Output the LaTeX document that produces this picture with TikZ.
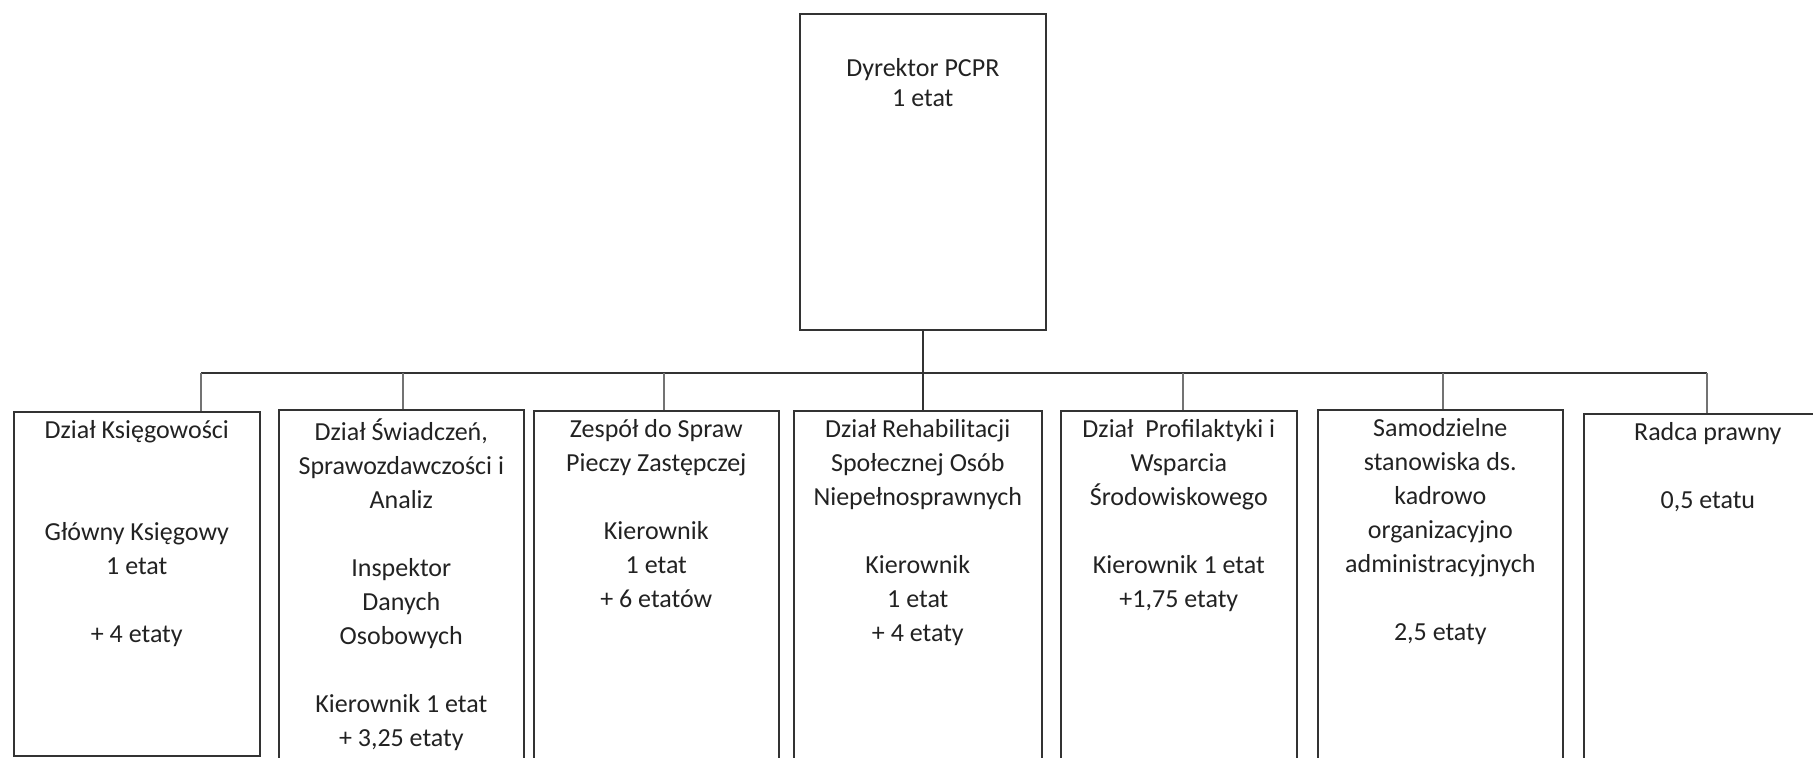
\documentclass[tikz,border=0pt]{standalone}
\usepackage{fontspec}
\setmainfont{Carlito}
\usetikzlibrary{positioning}
\definecolor{chartline}{RGB}{51,51,51}
\definecolor{charttext}{RGB}{34,34,34}

\begin{document}
\begin{tikzpicture}[x=.5pt,y=-.5pt,
    font=\fontsize{13pt}{17pt}\selectfont,
    unit/.style={draw=chartline,line width=.8pt,anchor=north west,
      inner sep=0pt,minimum height=190pt},
    txt/.style={align=center,inner sep=0pt,text=charttext,
      execute at begin node={\rule{0pt}{11.5pt}}},
    link/.style={draw=chartline,line width=.8pt},
    tick/.style={draw=black!55,line width=.8pt}]
    % Page frame (the lower boxes run off the bottom edge).
    \path[use as bounding box] (0,0) rectangle (1813,758);
    \clip (0,0) rectangle (1813,758);

    % Head of the unit.
    \node[unit,minimum width=123pt,minimum height=158pt]
      (dyrektor) at (799,13) {};
    \node[txt,font=\fontsize{13pt}{15pt}\selectfont,
      below=22.3pt of dyrektor.north] (dyrektorT) {Dyrektor PCPR\\1 etat};

    % Departments and posts.
    \node[unit,minimum width=123pt,minimum height=172pt]
      (ksieg) at (13,411) {};
    \node[txt,below=4.5pt of ksieg.north] (ksiegT)
      {Dział Księgowości\\~\\~\\Główny Księgowy\\1 etat\\~\\+ 4 etaty};
    \node[unit,minimum width=122.5pt] (swiad) at (278,409) {};
    \node[txt,below=4.5pt of swiad.north] (swiadT)
      {Dział Świadczeń,\\Sprawozdawczości i\\Analiz\\~\\Inspektor\\Danych\\
       Osobowych\\~\\Kierownik 1 etat\\+ 3,25 etaty};
    \node[unit,minimum width=122.5pt] (piecza) at (533,410) {};
    \node[txt,below=4.5pt of piecza.north] (pieczaT)
      {Zespół do Spraw\\Pieczy Zastępczej\\~\\Kierownik\\1 etat\\+ 6 etatów};
    \node[unit,minimum width=124pt] (rehab) at (793,410) {};
    \node[txt,below=4.5pt of rehab.north] (rehabT)
      {Dział Rehabilitacji\\Społecznej Osób\\Niepełnosprawnych\\~\\
       Kierownik\\1 etat\\+ 4 etaty};
    \node[unit,minimum width=118pt] (profil) at (1060,410) {};
    \node[txt,below=4.5pt of profil.north] (profilT)
      {Dział~ Profilaktyki i\\Wsparcia\\Środowiskowego\\~\\
       Kierownik 1 etat\\+1,75 etaty};
    \node[unit,minimum width=122.5pt] (samodz) at (1317,409) {};
    \node[txt,below=4.5pt of samodz.north] (samodzT)
      {Samodzielne\\stanowiska ds.\\kadrowo\\organizacyjno\\
       administracyjnych\\~\\2,5 etaty};
    \node[unit,minimum width=124pt] (radca) at (1583,413) {};
    \node[txt,below=4.5pt of radca.north] (radcaT)
      {Radca prawny\\~\\0,5 etatu};

    % Connectors.
    \draw[link] (dyrektor.south) -- (dyrektor.south |- rehab.north);
    \coordinate (busL) at (201,373);
    \coordinate (busR) at (1707,373);
    \draw[link] (busL) -- (busR);
    \foreach \x/\n in {201/ksieg,403/swiad,664/piecza,
                       1183/profil,1443/samodz,1707/radca}{
      \coordinate (t\n) at (\x,373);
      \draw[tick] (t\n) -- (t\n |- \n.north);
    }
\end{tikzpicture}
\end{document}
